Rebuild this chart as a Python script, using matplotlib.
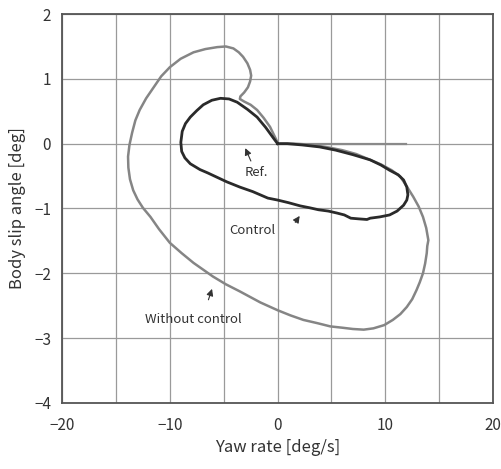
import matplotlib
matplotlib.use("Agg")
import matplotlib.pyplot as plt

plt.rcParams['font.family'] = ['Noto Sans CJK JP', 'DejaVu Sans']

# without control (gray curve), yaw rate [deg/s] / body slip [deg]
wo_x = [0.0, -0.7, -1.3, -1.9, -2.5, -3.1, -3.5, -3.45, -3.1, -2.75, -2.55, -2.45, -2.55,
        -2.8, -3.2, -3.6, -4.1, -4.8, -5.6, -6.7, -7.8, -9.0, -10.0, -10.8, -11.5,
        -12.2, -12.8, -13.2, -13.5, -13.75, -13.88, -13.85, -13.7, -13.4, -13.0, -12.5, -11.8,
        -11.0, -10.0, -8.9, -7.8, -6.0, -4.8, -3.5, -1.6, 0.0, 1.2, 2.4, 3.7, 4.9,
        6.0, 7.0, 8.0, 8.9, 9.9, 10.7, 11.4, 12.0, 12.5, 12.9, 13.2, 13.5, 13.7,
        13.85, 13.9, 14.0, 13.8, 13.5, 13.1, 12.6, 12.0, 11.4, 10.6, 9.6, 8.6,
        7.3, 6.0, 4.8, 3.7, 2.5, 1.5, 0.3]
wo_y = [0.02, 0.26, 0.4, 0.52, 0.6, 0.65, 0.69, 0.73, 0.79, 0.87, 0.96, 1.05, 1.14,
        1.24, 1.34, 1.41, 1.47, 1.5, 1.49, 1.46, 1.41, 1.31, 1.18, 1.04, 0.87,
        0.7, 0.52, 0.36, 0.17, -0.02, -0.2, -0.37, -0.55, -0.72, -0.86, -0.99, -1.13,
        -1.32, -1.53, -1.69, -1.84, -2.05, -2.17, -2.28, -2.45, -2.57, -2.65, -2.72, -2.77, -2.82,
        -2.84, -2.86, -2.87, -2.85, -2.8, -2.72, -2.63, -2.52, -2.4, -2.26, -2.14, -2.0, -1.85,
        -1.69, -1.58, -1.49, -1.3, -1.13, -0.97, -0.82, -0.66, -0.51, -0.41, -0.32, -0.25,
        -0.16, -0.1, -0.06, -0.03, -0.01, 0.0, 0.0]

# with control (black curve)
ctl_x = [0.0, -0.4, -1.1, -1.9, -2.8, -3.75, -4.5, -5.3, -6.1, -6.9, -7.5, -8.1,
         -8.55, -8.85, -8.98, -8.9, -8.6, -8.1, -7.2, -6.5, -5.6, -4.7, -3.5, -2.3,
         -0.9, 0.0, 1.0, 2.1, 3.0, 3.8, 4.7, 5.5, 6.2, 6.8, 7.5, 8.3, 8.6, 9.5,
         10.4, 11.1, 11.7, 12.0, 12.1, 12.0, 11.7, 11.2, 10.4, 9.6, 8.6, 7.0, 5.4,
         3.9, 2.3, 0.9, 0.0]
ctl_y = [0.0, 0.09, 0.25, 0.41, 0.53, 0.64, 0.69, 0.7, 0.67, 0.6, 0.51, 0.41,
         0.31, 0.19, 0.02, -0.12, -0.22, -0.31, -0.4, -0.45, -0.52, -0.59, -0.67, -0.74,
         -0.84, -0.87, -0.91, -0.96, -0.99, -1.02, -1.04, -1.07, -1.1, -1.15, -1.16, -1.17, -1.15, -1.13,
         -1.1, -1.04, -0.95, -0.87, -0.79, -0.67, -0.56, -0.48, -0.41, -0.33, -0.25, -0.17, -0.1,
         -0.05, -0.02, 0.0, 0.0]

# reference
ref_x = [0.2, 11.9]
ref_y = [0.0, 0.0]

fig = plt.figure(figsize=(5.01, 4.69), dpi=100)
ax = fig.add_axes([0.124, 0.141, 0.86, 0.829])

ax.plot(ref_x, ref_y, color='#8a8a8a', lw=1.6, zorder=3)
ax.plot(wo_x, wo_y, color='#858585', lw=1.8, zorder=4, solid_joinstyle='round')
ax.plot(ctl_x, ctl_y, color='#2a2a2a', lw=2.0, zorder=5, solid_joinstyle='round')

ax.set_xlim(-20, 20)
ax.set_ylim(-4, 2)
ax.set_xticks([-20, -10, 0, 10, 20])
ax.set_xticks([-15, -5, 5, 15], minor=True)
ax.set_yticks([-4, -3, -2, -1, 0, 1, 2])
ax.grid(True, which='both', color='#9a9a9a', lw=0.9)
ax.tick_params(which='both', length=0, labelsize=11, colors='#333333')
ax.tick_params(axis='x', pad=10)
ax.tick_params(axis='y', pad=8)
ax.set_xticklabels(['−20', '−10', '0', '10', '20'])
ax.set_yticklabels(['−4', '−3', '−2', '−1', '0', '1', '2'])
for s in ax.spines.values():
    s.set_color('#555555')
    s.set_linewidth(1.3)

ax.set_xlabel('Yaw rate [deg/s]', fontsize=12, color='#333333', labelpad=4)
ax.set_ylabel('Body slip angle [deg]', fontsize=12, color='#333333', labelpad=6)

arr = dict(arrowstyle='-|>', color='#333333', lw=0.8, mutation_scale=10)
ax.annotate('Ref.', xy=(-3.1, -0.03), xytext=(-2.0, -0.45), fontsize=9.5,
            color='#333333', ha='center', va='center', arrowprops=arr)
ax.annotate('', xy=(2.2, -1.08), xytext=(1.5, -1.25), arrowprops=arr)
ax.text(-2.3, -1.34, 'Control', fontsize=9.5, color='#333333', ha='center', va='center')
ax.annotate('', xy=(-6.0, -2.2), xytext=(-6.5, -2.45), arrowprops=arr)
ax.text(-7.8, -2.71, 'Without control', fontsize=9.5, color='#333333', ha='center', va='center')

fig.savefig('out.png', dpi=100)
